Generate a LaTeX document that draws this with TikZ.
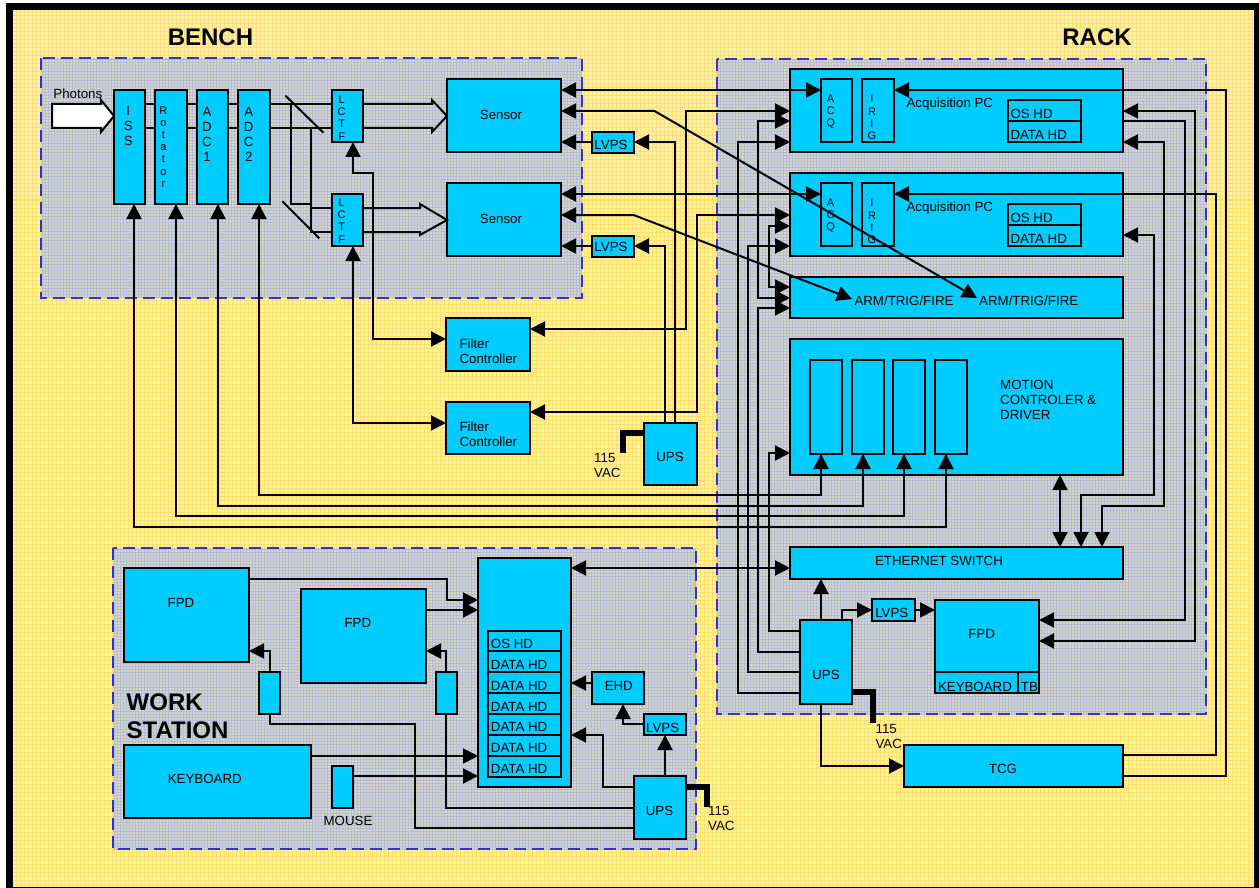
\documentclass[tikz,border=0pt]{standalone}
\usepackage{fontspec}
\setmainfont{Liberation Sans}
\usepackage{xcolor}
\usetikzlibrary{arrows.meta,backgrounds}
\definecolor{plaidbase}{HTML}{FFF0B0}
\definecolor{plaidline}{HTML}{FFDF70}
\definecolor{zonebase}{HTML}{D8D6C4}
\definecolor{zoneline}{HTML}{B4BCD8}
\definecolor{zoneedge}{HTML}{3333CC}
\definecolor{unitblue}{HTML}{00CCFF}
\tikzset{
  unit/.style={draw=black,line width=2pt,fill=unitblue,inner sep=0pt,outer sep=0pt},
  lbl/.style={inner sep=0pt,font=\fontsize{13.3}{15}\selectfont,align=left},
  stackA/.style={inner sep=0pt,font=\fontsize{13.3}{15}\selectfont,align=center},
  stackB/.style={inner sep=0pt,font=\fontsize{11}{12.2}\selectfont,align=center},
  title/.style={inner sep=0pt,font=\fontsize{24}{28}\selectfont\bfseries,align=left},
  wire/.style={black,line width=2pt},
  flow/.style={wire,-{Triangle[length=15pt,width=15pt]}},
  both/.style={wire,{Triangle[length=15pt,width=15pt]}-{Triangle[length=15pt,width=15pt]}},
  cable/.style={black,line width=6pt},
  zone/.style={draw=zoneedge,line width=2pt,dash pattern=on 12pt off 6pt}
}
% box given by its corners
\newcommand{\unitbox}[5]{\node[unit,minimum width={(#4-#2)*1pt},minimum height={(#5-#3)*1pt}] (#1) at ({(#2+#4)/2},{(#3+#5)/2}) {};}
\begin{document}
\begin{tikzpicture}[x=1pt,y=-1pt]
  \useasboundingbox (0,0) rectangle (1259,888);
  \begin{scope}[on background layer]
    \fill[black] (6,3) rectangle (1259,888);
    \fill[plaidbase] (13,10) rectangle (1254,887);
    \draw[plaidline,line width=1pt,step=4pt] (13,10) grid (1254,887);
    \foreach \a/\b/\c/\d in {41/58/582/298,717/59/1206/714,113/548/696/849} {
      \fill[zonebase] (\a,\b) rectangle (\c,\d);
      \draw[zoneline,line width=1pt,step=3pt] (\a,\b) grid (\c,\d);
      \draw[zone] (\a,\b) rectangle (\c,\d);
    }
  \end{scope}

  % titles
  \node[title] (benchttl) at (210.5,37) {BENCH};
  \node[title] (rackttl) at (1097,37) {RACK};
  \node[title,anchor=west] (workttl) at (126.5,702.7) {WORK};
  \node[title,anchor=west] (stationttl) at (126.5,730.7) {STATION};

  % bench
  \unitbox{iss}{114}{90}{145}{204}
  \unitbox{rot}{155}{90}{187}{204}
  \unitbox{adcA}{197}{90}{228}{204}
  \unitbox{adcB}{238}{90}{270}{204}
  \unitbox{lctfA}{332}{90}{363}{142}
  \unitbox{lctfB}{332}{194}{363}{246}
  \unitbox{sensorA}{447}{79}{561}{152}
  \unitbox{sensorB}{447}{183}{561}{256}
  \unitbox{lvpsA}{592}{132}{634}{153}
  \unitbox{lvpsB}{592}{236}{634}{257}
  \unitbox{filtA}{446}{318}{530}{371}
  \unitbox{filtB}{446}{402}{530}{454}
  \unitbox{upsM}{644}{423}{697}{485}
  \node[lbl] (phot) at (77.8,93.3) {Photons};
  \node[stackA] (isstxt) at (128.2,126) {I\\S\\S};
  \node[stackB] (rottxt) at (163.4,147) {R\\o\\t\\a\\t\\o\\r};
  \node[stackA] (adcAtxt) at (207,134) {A\\D\\C\\1};
  \node[stackA] (adcBtxt) at (248.8,134) {A\\D\\C\\2};
  \node[stackB] (lctfAtxt) at (341.7,118) {L\\C\\T\\F};
  \node[stackB] (lctfBtxt) at (341.7,221) {L\\C\\T\\F};
  \node[lbl] (sensorAtxt) at (501,115) {Sensor};
  \node[lbl] (sensorBtxt) at (501,219) {Sensor};
  \node[lbl] (lvpsAtxt) at (611,145) {LVPS};
  \node[lbl] (lvpsBtxt) at (611,247) {LVPS};
  \node[lbl,anchor=west] (filtAtxt) at (459.3,351) {Filter\\Controller};
  \node[lbl,anchor=west] (filtBtxt) at (459.3,434) {Filter\\Controller};
  \node[lbl] (upsMtxt) at (670,457.3) {UPS};
  \node[lbl,anchor=west] (vacM) at (594,465) {115\\VAC};

  % rack
  \unitbox{pcA}{790}{69}{1123}{152}
  \unitbox{pcB}{790}{173}{1123}{256}
  \unitbox{acqA}{821}{79}{852}{142}
  \unitbox{irigA}{862}{79}{894}{142}
  \unitbox{acqB}{821}{183}{852}{246}
  \unitbox{irigB}{862}{183}{894}{246}
  \unitbox{oshdA}{1008}{100}{1081}{121}
  \unitbox{datahdA}{1008}{121}{1081}{142}
  \unitbox{oshdB}{1008}{204}{1081}{225}
  \unitbox{datahdB}{1008}{225}{1081}{246}
  \unitbox{arm}{790}{277}{1123}{318}
  \unitbox{motion}{790}{339}{1123}{475}
  \unitbox{driveA}{810}{360}{842}{454}
  \unitbox{driveB}{852}{360}{884}{454}
  \unitbox{driveC}{893}{360}{925}{454}
  \unitbox{driveD}{935}{360}{967}{454}
  \unitbox{ether}{790}{547}{1123}{579}
  \unitbox{upsR}{800}{620}{852}{704}
  \unitbox{lvpsR}{872}{599}{915}{621}
  \unitbox{fpdR}{935}{600}{1039}{672}
  \unitbox{keyR}{935}{672}{1018}{693}
  \unitbox{tbR}{1018}{672}{1039}{693}
  \unitbox{tcg}{904}{745}{1123}{787}
  \node[stackB] (acqAtxt) at (830.6,111.5) {A\\C\\Q};
  \node[stackB] (irigAtxt) at (872,117.5) {I\\R\\I\\G};
  \node[stackB] (acqBtxt) at (830.6,215.5) {A\\C\\Q};
  \node[stackB] (irigBtxt) at (872,221.5) {I\\R\\I\\G};
  \node[lbl,anchor=west] (pcAtxt) at (906.4,104) {Acquisition PC};
  \node[lbl,anchor=west] (pcBtxt) at (906.4,208) {Acquisition PC};
  \node[lbl,anchor=west] (oshdAtxt) at (1010.3,114) {OS HD};
  \node[lbl,anchor=west] (datahdAtxt) at (1010.3,135.3) {DATA HD};
  \node[lbl,anchor=west] (oshdBtxt) at (1010.3,218) {OS HD};
  \node[lbl,anchor=west] (datahdBtxt) at (1010.3,239.3) {DATA HD};
  \node[lbl,anchor=west] (armAtxt) at (854.3,300.7) {ARM/TRIG/FIRE};
  \node[lbl,anchor=west] (armBtxt) at (979,300.7) {ARM/TRIG/FIRE};
  \node[lbl,anchor=west] (motiontxt) at (1000,400) {MOTION\\CONTROLER \&\\DRIVER};
  \node[lbl] (ethertxt) at (939,561) {ETHERNET SWITCH};
  \node[lbl] (upsRtxt) at (826,675.3) {UPS};
  \node[lbl] (lvpsRtxt) at (891.8,613) {LVPS};
  \node[lbl] (fpdRtxt) at (981.6,634.3) {FPD};
  \node[lbl,anchor=west] (keyRtxt) at (937.8,686.7) {KEYBOARD};
  \node[lbl] (tbRtxt) at (1029.4,686.7) {TB};
  \node[lbl] (tcgtxt) at (1003,769) {TCG};
  \node[lbl,anchor=west] (vacR) at (875.4,736) {115\\VAC};

  % work station
  \unitbox{fpdA}{124}{568}{249}{662}
  \unitbox{fpdB}{301}{589}{426}{683}
  \unitbox{wspc}{478}{558}{571}{787}
  \unitbox{oshdW}{488}{631}{561}{651}
  \unitbox{dataA}{488}{651}{561}{672}
  \unitbox{dataB}{488}{672}{561}{693}
  \unitbox{dataC}{488}{693}{561}{714}
  \unitbox{dataD}{488}{714}{561}{735}
  \unitbox{dataE}{488}{735}{561}{756}
  \unitbox{dataF}{488}{756}{561}{777}
  \unitbox{ehd}{592}{672}{644}{704}
  \unitbox{lvpsW}{644}{714}{686}{735}
  \unitbox{upsW}{634}{776}{686}{839}
  \unitbox{keyW}{124}{745}{311}{818}
  \unitbox{mouse}{332}{766}{353}{808}
  \unitbox{adptA}{259}{672}{280}{714}
  \unitbox{adptB}{436}{672}{457}{714}
  \node[lbl] (fpdAtxt) at (181,603.3) {FPD};
  \node[lbl] (fpdBtxt) at (357.8,623.3) {FPD};
  \node[lbl] (keyWtxt) at (204.8,779.3) {KEYBOARD};
  \node[lbl] (mousetxt) at (348,821) {MOUSE};
  \node[lbl] (ehdtxt) at (618.8,686.3) {EHD};
  \node[lbl] (lvpsWtxt) at (662.7,727.7) {LVPS};
  \node[lbl] (upsWtxt) at (659.5,811.3) {UPS};
  \node[lbl,anchor=west] (oshdWtxt) at (490.7,644.3) {OS HD};
  \foreach \n/\y in {A/665.3,B/686.3,C/707,D/727.3,E/748.3,F/769.3}
    \node[lbl,anchor=west] (data\n txt) at (490.7,\y) {DATA HD};
  \node[lbl,anchor=west] (vacW) at (708,818.5) {115\\VAC};

  % beams behind the optics
  \begin{scope}[on background layer]
    \draw[wire] (iss.center |- 0,104) -- (lctfA.west |- 0,104);
    \draw[wire] (iss.center |- 0,128) -- (lctfA.west |- 0,128);
    \draw[wire] (291,104) |- (311,204) |- (lctfB.west |- 0,208);
    \draw[wire] (311,128) |- (lctfB.west |- 0,232);
  \end{scope}
  \draw[wire,fill=white] (52,104) -- (101,104) -- (101,100) -- (iss.west |- 0,116)
    -- (101,132) -- (101,128) -- (52,128) -- cycle;
  \draw[wire] (lctfA.east |- 0,104) -- (432,104) -- (432,100) -- (sensorA.west |- 0,116)
    -- (432,132) -- (432,128) -- (lctfA.east |- 0,128);
  \draw[wire] (lctfB.east |- 0,208) -- (420,208) -- (420,204) -- (sensorB.west |- 0,220)
    -- (420,235) -- (420,232) -- (lctfB.east |- 0,232);
  \draw[wire] (285.5,95.7) -- (323.4,132.7);
  \draw[wire] (282.4,201.3) -- (319.2,238.3);

  % bench to motion
  \draw[both] (adcB.south -| 259,0) |- (821,495) -- (driveA.south -| 821,0);
  \draw[both] (adcA.south -| 218,0) |- (863,506) -- (driveB.south -| 863,0);
  \draw[both] (rot.south -| 176,0) |- (904,516) -- (driveC.south -| 904,0);
  \draw[both] (iss.south -| 134,0) |- (946,527) -- (driveD.south -| 946,0);
  \draw[both] (lctfA.south -| 353,0) |- (373,173) |- (filtA.west |- 0,339);
  \draw[both] (lctfB.south -| 353,0) |- (filtB.west |- 0,423);

  % sensors
  \draw[both] (sensorA.east |- 0,90) -- (acqA.west |- 0,90);
  \draw[both] (sensorB.east |- 0,194) -- (acqB.west |- 0,194);
  \draw[both] (sensorA.east |- 0,111) -- (654.5,111) -- (977,298);
  \draw[both] (sensorB.east |- 0,215) -- (633.6,215) -- (852,299);
  \draw[flow] (lvpsA.west |- 0,142) -- (sensorA.east |- 0,142);
  \draw[flow] (lvpsB.west |- 0,246) -- (sensorB.east |- 0,246);
  \draw[flow] (upsM.north -| 675,0) |- (lvpsA.east |- 0,142);
  \draw[flow] (upsM.north -| 665,0) |- (lvpsB.east |- 0,246);
  \draw[cable] (upsM.west |- 0,433) -| (623,453);

  % filter controllers
  \draw[both] (filtA.east |- 0,329) -| (686,111) -- (pcA.west |- 0,111);
  \draw[both] (filtB.east |- 0,412) -| (697,215) -- (pcB.west |- 0,215);

  % rack ups
  \draw[flow] (upsR.west |- 0,693) -| (738,142) -- (pcA.west |- 0,142);
  \draw[flow] (upsR.west |- 0,672) -| (748,246) -- (pcB.west |- 0,246);
  \draw[flow] (upsR.west |- 0,652) -| (758,308) -- (arm.west |- 0,308);
  \draw[flow] (upsR.west |- 0,631) -| (769,453) -- (motion.west |- 0,453);
  \draw[both] (pcA.west |- 0,121) -| (758,298) -- (arm.west |- 0,298);
  \draw[both] (pcB.west |- 0,226) -| (769,287) -- (arm.west |- 0,287);
  \draw[flow] (upsR.north -| 821,0) -- (ether.south -| 821,0);
  \draw[flow] (upsR.north -| 842,0) |- (lvpsR.west |- 0,610);
  \draw[flow] (lvpsR.east |- 0,610) -- (fpdR.west |- 0,610);
  \draw[cable] (upsR.east |- 0,692) -| (873,723);
  \draw[flow] (upsR.south -| 821,0) |- (tcg.west |- 0,766);

  % right side bus
  \draw[both] (pcA.east |- 0,111) -| (1195,641) -- (fpdR.east |- 0,641);
  \draw[flow] (pcA.east |- 0,121) -| (1185,620) -- (fpdR.east |- 0,620);
  \draw[both] (pcA.east |- 0,142) -| (1164,506) -| (ether.north -| 1102,0);
  \draw[both] (pcB.east |- 0,235) -| (1154,495) -| (ether.north -| 1081,0);
  \draw[both] (motion.south -| 1060,0) -- (ether.north -| 1060,0);
  \draw[flow] (tcg.east |- 0,755) -| (1216,194) -- (irigB.east |- 0,194);
  \draw[flow] (tcg.east |- 0,776) -| (1226,90) -- (irigA.east |- 0,90);
  \draw[both] (wspc.east |- 0,568) -- (ether.west |- 0,568);

  % work station
  \draw[flow] (fpdA.east |- 0,579) -| (447,600) -- (wspc.west |- 0,600);
  \draw[flow] (fpdB.east |- 0,610) -- (wspc.west |- 0,610);
  \draw[flow] (adptA.north -| 270,0) |- (fpdA.east |- 0,651);
  \draw[flow] (adptB.north -| 446,0) |- (fpdB.east |- 0,651);
  \draw[wire] (adptA.south -| 270,0) |- (415,724) |- (upsW.west |- 0,828);
  \draw[wire] (adptB.south -| 446,0) |- (upsW.west |- 0,808);
  \draw[flow] (keyW.east |- 0,756) -- (wspc.west |- 0,756);
  \draw[flow] (mouse.east |- 0,776) -- (wspc.west |- 0,776);
  \draw[flow] (ehd.west |- 0,683) -- (wspc.east |- 0,683);
  \draw[flow] (upsW.west |- 0,787) -| (603,735) -- (wspc.east |- 0,735);
  \draw[flow] (upsW.north -| 665,0) -- (lvpsW.south -| 665,0);
  \draw[flow] (lvpsW.west |- 0,724) -| (ehd.south -| 623,0);
  \draw[cable] (upsW.east |- 0,787) -| (707,807);
\end{tikzpicture}
\end{document}
